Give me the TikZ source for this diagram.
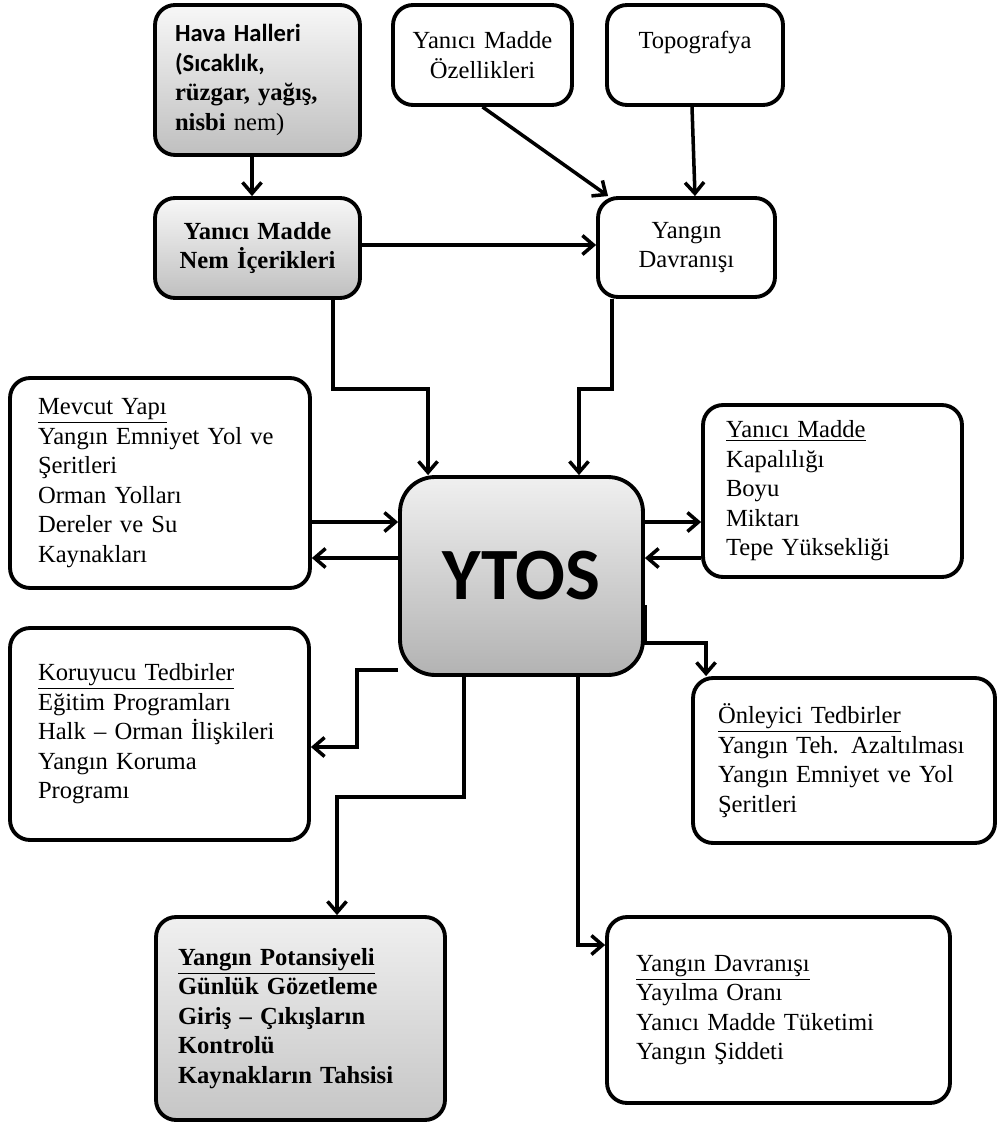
\documentclass[tikz,border=0pt]{standalone}
\usepackage{fontspec}
\setmainfont{Liberation Serif}
\newfontfamily\calibri{Carlito}
\usepackage{tikz}
\usetikzlibrary{arrows.meta}
\tikzset{
	box/.style={draw,line width=2.2pt,rounded corners=0.4cm,align=left,
		font=\fontsize{14}{16.8}\selectfont},
	greybox/.style={box,top color=gray!6,bottom color=gray!50},
	arr/.style={->,line width=2pt}
}

\begin{document}
\begin{tikzpicture}[x=0.02cm,y=-0.02cm,>={Straight Barb[length=2.2mm,width=3.8mm]}]
	\useasboundingbox (0,0) rectangle (997,1122);
	% top row
	\node [greybox,text width=3.3cm,inner xsep=0.4cm,minimum height=3.0cm] (hava) at (257.5,80)
		{{\calibri\bfseries Hava Halleri\\(Sıcaklık,}\\\textbf{rüzgar, yağış,}\\\textbf{nisbi} nem)};
	\node [greybox,align=center,text width=3.5cm,inner xsep=0.3cm,minimum height=2.0cm] (nem) at (257.5,248)
		{\textbf{Yanıcı Madde}\\\textbf{Nem İçerikleri}};
	\node [box,align=center,text width=3.1cm,inner xsep=0.24cm,minimum height=2.0cm] (ozellik) at (482.5,55)
		{Yanıcı Madde\\Özellikleri};
	\node [box,align=center,text width=3.0cm,inner xsep=0.26cm,minimum height=2.0cm] (topo) at (695,55)
		{Topografya\\\mbox{}};
	\node [box,align=center,text width=3.0cm,inner xsep=0.27cm,minimum height=1.98cm] (davranis) at (686.5,247.5)
		{Yangın\\Davranışı};
	% middle
	\node [greybox,rounded corners=0.7cm,top color=gray!12,bottom color=gray!60,align=center,
		minimum width=4.86cm,minimum height=3.96cm,font=\calibri\bfseries\fontsize{42}{46}\selectfont] (ytos) at (521.5,576) {YTOS};
	\node [box,text width=4.88cm,inner xsep=0.56cm,minimum height=4.2cm] (mevcut) at (160,483)
		{\underline{Mevcut Yapı}\\Yangın Emniyet Yol ve\\Şeritleri\\Orman Yolları\\Dereler ve Su\\Kaynakları};
	\node [box,text width=4.26cm,inner xsep=0.46cm,minimum height=3.44cm] (yanici) at (832.5,491)
		{\underline{Yanıcı Madde}\\Kapalılığı\\Boyu\\Miktarı\\Tepe Yüksekliği};
	% bottom
	\node [box,text width=4.86cm,inner xsep=0.56cm,minimum height=4.24cm] (koruyucu) at (159.5,734)
		{\underline{Koruyucu Tedbirler}\\Eğitim Programları\\Halk -- Orman İlişkileri\\Yangın Koruma\\Programı};
	\node [box,text width=5.04cm,inner xsep=0.5cm,minimum height=3.3cm] (onleyici) at (844,760.5)
		{\underline{Önleyici Tedbirler}\\Yangın Teh. Azaltılması\\Yangın Emniyet ve Yol\\Şeritleri};
	\node [greybox,top color=gray!12,bottom color=gray!45,text width=4.9cm,inner xsep=0.44cm,minimum height=4.06cm] (potansiyel) at (300.5,1018.5)
		{\textbf{\underline{Yangın Potansiyeli}}\\\textbf{Günlük Gözetleme}\\\textbf{Giriş -- Çıkışların}\\\textbf{Kontrolü}\\\textbf{Kaynakların Tahsisi}};
	\node [box,text width=5.7cm,inner xsep=0.58cm,minimum height=3.72cm] (davranis2) at (778.5,1010)
		{\underline{Yangın Davranışı}\\Yayılma Oranı\\Yanıcı Madde Tüketimi\\Yangın Şiddeti};
	% connectors
	\draw [arr] ([xshift=-0.11cm]hava.south) -- ([xshift=-0.11cm]nem.north);
	\draw [arr] ([yshift=0.06cm]nem.east) -- ([yshift=0.06cm]nem.east -| davranis.west);
	\draw [arr] (ozellik.south) -- ([xshift=0.24cm]davranis.north west);
	\draw [arr] ([xshift=-0.06cm]topo.south) -- ([xshift=0.17cm]davranis.north);
	\draw [arr] ([xshift=1.51cm]nem.south) -- ++(0,89) -| ([xshift=-1.87cm]ytos.north);
	\draw [arr] ([xshift=-1.49cm]davranis.south) -- ++(0,90) -| ([xshift=1.15cm]ytos.north);
	\draw [arr] ([yshift=1.08cm]mevcut.east |- ytos.east) -- ([yshift=1.08cm]ytos.west);
	\draw [arr] ([yshift=0.36cm]ytos.west) -- ([yshift=0.36cm]ytos.west -| mevcut.east);
	\draw [arr] ([yshift=1.08cm]ytos.east) -- ([yshift=1.08cm]ytos.east -| yanici.west);
	\draw [arr] ([yshift=0.36cm]ytos.east -| yanici.west) -- ([yshift=0.36cm]ytos.east);
	\draw [arr] ([yshift=-0.58cm]ytos.east) -- ++(0,38) -| ([xshift=-2.76cm]onleyici.north);
	\draw [arr] ([yshift=0.14cm]ytos.south west) -- ++(-41,0) |- ([yshift=-0.26cm]koruyucu.east);
	\draw [arr] ([xshift=-1.15cm]ytos.south) -- ++(0,120) -| ([xshift=0.73cm]potansiyel.north);
	\draw [arr] ([xshift=1.13cm]ytos.south) |- ([yshift=1.3cm]davranis2.west);
\end{tikzpicture}
\end{document}
